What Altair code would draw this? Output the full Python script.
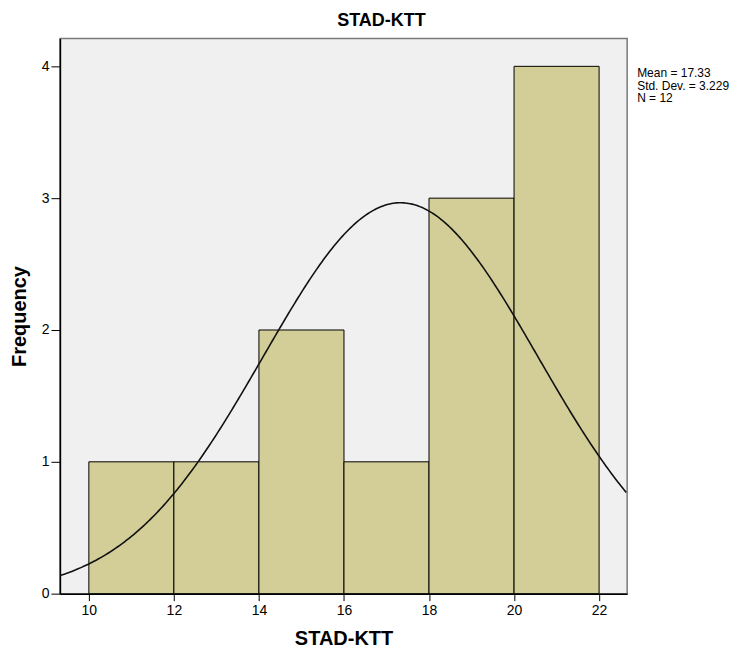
import altair as alt
import pandas as pd

# Histogram data
bin_start = [10, 12, 14, 16, 18, 20]
bin_end = [12, 14, 16, 18, 20, 22]
counts = [1, 1, 2, 1, 3, 4]

# Summary statistics shown in the chart
mean_val = 17.33
sd_val = 3.229
n_val = 12
bin_width = 2

x_ticks = [10, 12, 14, 16, 18, 20, 22]
y_ticks = [0, 1, 2, 3, 4]
x_domain = [9.32, 22.66]
y_domain = [0, 4.212]

stats_lines = ["Mean = 17.33", "Std. Dev. = 3.229", "N = 12"]

FONT = "Liberation Sans"
W, H = 568, 556

bars_df = pd.DataFrame({"start": bin_start, "end": bin_end, "count": counts})

xscale = alt.Scale(domain=x_domain, nice=False, zero=False)
yscale = alt.Scale(domain=y_domain, nice=False, zero=False)

bars = alt.Chart(bars_df).mark_rect(
    fill="#D3CE97", stroke="#000000", strokeWidth=1
).encode(
    x=alt.X("start:Q", scale=xscale, axis=alt.Axis(
        values=x_ticks, title="STAD-KTT", grid=False, tickSize=7, format="d",
        labelPadding=3, titlePadding=11, domainColor="#000000",
        tickColor="#000000", domainWidth=1.5)),
    x2="end:Q",
    y=alt.Y("count:Q", scale=yscale, axis=alt.Axis(
        values=y_ticks, title="Frequency", grid=False, tickSize=9, format="d",
        labelPadding=2, titlePadding=12, domainColor="#000000",
        tickColor="#000000", domainWidth=1.5)),
    y2=alt.datum(0),
)

curve = alt.Chart(alt.sequence(x_domain[0], x_domain[1] + 0.01, 0.04, as_="x")).transform_calculate(
    y=f"{n_val * bin_width} / ({sd_val} * sqrt(2 * PI)) * exp(-0.5 * pow((datum.x - {mean_val}) / {sd_val}, 2))"
).mark_line(color="#111111", strokeWidth=1.6, clip=True).encode(
    x=alt.X("x:Q", scale=xscale),
    y=alt.Y("y:Q", scale=yscale),
)

stats = alt.Chart(pd.DataFrame({"t": [stats_lines]})).mark_text(
    align="left", baseline="top", font=FONT, fontSize=12, lineHeight=12.5,
    color="#000000", clip=False
).encode(
    x=alt.value(W + 10),
    y=alt.value(30),
    text="t:N",
)

chart = alt.layer(bars, curve, stats).properties(
    width=W,
    height=H,
    title=alt.TitleParams("STAD-KTT", fontSize=18, fontWeight="bold", font=FONT,
                          anchor="middle", dx=38, offset=8, color="#000000"),
    autosize=alt.AutoSizeParams(type="none"),
    padding={"left": 52, "top": 30, "right": 120, "bottom": 60},
    background="#FFFFFF",
).configure_view(
    fill="#F0F0F0", stroke="#7A7A7A", strokeWidth=1.5
).configure_axis(
    labelFont=FONT, labelFontSize=14, labelColor="#000000",
    titleFont=FONT, titleFontSize=20, titleFontWeight="bold", titleColor="#000000",
)

chart.save("out.html", embed_options={"renderer": "svg", "actions": False})
